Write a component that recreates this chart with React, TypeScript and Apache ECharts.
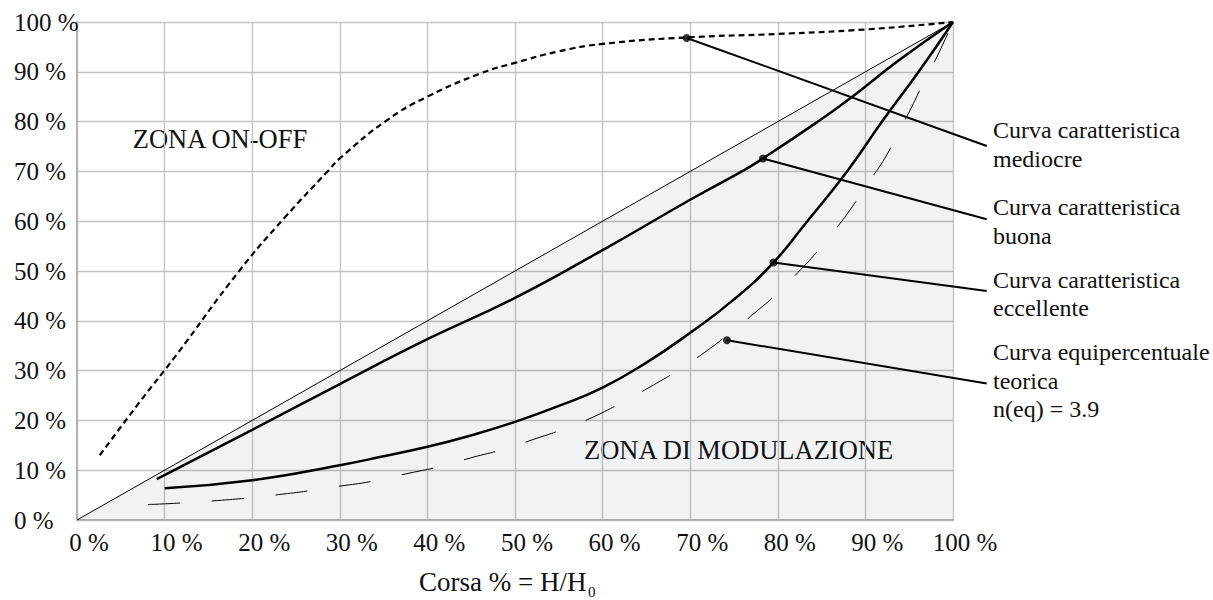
import React, { useEffect, useRef } from "react";
import * as echarts from "echarts";

// ---- data (percent of stroke vs percent of flow) ----
const diagonal: number[][] = [
  [0, 0],
  [100, 100],
];

const curvaMediocre: number[][] = [
  [2.6, 13], [7.2, 23.8], [11.2, 32.8], [18.6, 50.2], [23.8, 60.9], [28.6, 70],
  [30, 72.6], [35.4, 80.3], [40, 85], [46.1, 89.7], [50, 91.8], [55, 94.1],
  [60, 95.6], [69.6, 96.9], [80, 97.6], [90, 98.5], [100, 100],
];

const curvaBuona: number[][] = [
  [9.1, 8.2], [20, 18.1], [30, 27.3], [40, 36.3], [50, 44.6], [60, 54.2],
  [70, 64.3], [76.1, 70.2], [78.3, 72.6], [84.4, 79.8], [88.2, 84.6],
  [93.9, 92.4], [100, 100],
];

const curvaEccellente: number[][] = [
  [10, 6.4], [20, 8.0], [30, 11.0], [35, 12.8], [40, 14.7], [45, 17.0],
  [50, 19.7], [55, 22.9], [60, 26.6], [65, 31.6], [70, 37.6], [75, 44.3],
  [79.5, 51.7], [83, 59.2], [87.9, 70], [91.9, 80], [96.2, 90.3], [100, 100],
];

const curvaEquipercentuale: number[][] = [
  [8.1, 3.1], [16, 3.9], [24, 5.3], [30, 6.8], [33.8, 7.8], [37.9, 9.4],
  [41.6, 10.8], [45.2, 12.6], [48.7, 14.2], [52.3, 16.3], [55.8, 18.4],
  [59.2, 20.9], [62.5, 23.9], [65.8, 27.1], [69, 30.5], [72, 34.1],
  [74.7, 37.8], [77.3, 41.5], [79.8, 45.3], [82.3, 49.7], [84.5, 53.9],
  [86.6, 58.4], [88.5, 62.9], [90.4, 67.9], [92.2, 72.6], [93.7, 77.6],
  [95.1, 82.3], [96.6, 87.7], [98, 92.4], [100, 100],
];

const markerPoints: number[][] = [
  [69.6, 96.8],
  [78.3, 72.6],
  [79.5, 51.7],
  [74.2, 36.1],
];

const leaderEnds: number[][] = [
  [103.85, 75.1],
  [103.85, 60.4],
  [103.85, 46.0],
  [103.85, 27.4],
];

const labelBlocks: string[][] = [
  ["Curva caratteristica", "mediocre"],
  ["Curva caratteristica", "buona"],
  ["Curva caratteristica", "eccellente"],
  ["Curva equipercentuale", "teorica", "n(eq) = 3.9"],
];

const zoneLabels: string[] = ["ZONA ON-OFF", "ZONA DI MODULAZIONE"];
const axisTitle = "Corsa % = H/H";
const axisTitleSub = "0";

// ---- component ----
const FONT = '"Liberation Serif", "Times New Roman", Times, serif';

export default function App() {
  const ref = useRef<HTMLDivElement | null>(null);

  useEffect(() => {
    if (!ref.current) return;
    const chart = echarts.init(ref.current, undefined, { renderer: "svg" });

    const textGraphics: any[] = [];
    const blockBaselines = [138.3, 215, 287.7, 360];
    const lineStep = 28.5;
    labelBlocks.forEach((lines, bi) => {
      lines.forEach((t, li) => {
        textGraphics.push({
          type: "text",
          x: 993,
          y: blockBaselines[bi] + li * lineStep - 8,
          silent: true,
          style: {
            text: t,
            fontFamily: FONT,
            fontSize: 24,
            fill: "#111",
            align: "left",
            verticalAlign: "middle",
          },
        });
      });
    });
    const zonePos = [
      [132.7, 138.8],
      [584, 450.4],
    ];
    zoneLabels.forEach((t, i) => {
      textGraphics.push({
        type: "text",
        x: zonePos[i][0],
        y: zonePos[i][1],
        silent: true,
        style: {
          text: t,
          fontFamily: FONT,
          fontSize: 26.5,
          fill: "#111",
          align: "left",
          verticalAlign: "middle",
        },
      });
    });
    textGraphics.push({
      type: "text",
      x: 419,
      y: 582,
      silent: true,
      style: {
        text: axisTitle,
        fontFamily: FONT,
        fontSize: 27,
        fill: "#111",
        align: "left",
        verticalAlign: "middle",
      },
    });
    textGraphics.push({
      type: "text",
      x: 588,
      y: 592,
      silent: true,
      style: {
        text: axisTitleSub,
        fontFamily: FONT,
        fontSize: 15,
        fill: "#111",
        align: "left",
        verticalAlign: "middle",
      },
    });

    const axisCommon = {
      type: "value",
      min: 0,
      max: 100,
      interval: 10,
      axisLine: { show: true, onZero: false, lineStyle: { color: "#b2b2b2", width: 2 } },
      axisTick: { show: false },
      splitLine: { show: true, lineStyle: { color: "#c4c4c4", width: 1.3 } },
    };

    const curveLine = (data: number[][], width: number, type: any) => ({
      type: "line",
      data,
      symbol: "none",
      smooth: 0.5,
      silent: true,
      lineStyle: { color: "#000", width, type },
      z: 3,
    });

    chart.setOption({
      animation: false,
      backgroundColor: "#fff",
      grid: { left: 77, right: 260, top: 22, bottom: 80, containLabel: false },
      xAxis: {
        ...axisCommon,
        axisLabel: {
          formatter: "{value} %",
          fontFamily: FONT,
          fontSize: 25,
          color: "#111",
          margin: 10,
          padding: [0, 0, 0, 24],
        },
      },
      yAxis: {
        ...axisCommon,
        axisLabel: {
          formatter: "{value} %",
          fontFamily: FONT,
          fontSize: 25,
          color: "#111",
          align: "left",
          margin: 63,
        },
      },
      graphic: textGraphics,
      series: [
        {
          type: "line",
          data: diagonal,
          symbol: "none",
          silent: true,
          lineStyle: { color: "#000", width: 1 },
          areaStyle: { color: "rgba(0,10,30,0.078)", origin: "start" },
          z: 1,
        },
        curveLine(curvaMediocre, 2.2, [6, 4]),
        curveLine(curvaBuona, 2.5, "solid"),
        curveLine(curvaEccellente, 2.5, "solid"),
        curveLine(curvaEquipercentuale, 1, [32, 32]),
        {
          type: "scatter",
          data: markerPoints,
          symbol: "circle",
          symbolSize: 8,
          silent: true,
          itemStyle: { color: "#000" },
          z: 5,
        },
      ],
    });

    // leader lines from each marker to its label, positioned through the axis scales
    const leaderGraphics = markerPoints.map((p, i) => {
      const a = chart.convertToPixel({ gridIndex: 0 }, p) as number[];
      const b = chart.convertToPixel({ gridIndex: 0 }, leaderEnds[i]) as number[];
      return {
        type: "line",
        silent: true,
        z: 4,
        shape: { x1: a[0], y1: a[1], x2: b[0], y2: b[1] },
        style: { stroke: "#000", lineWidth: 2 },
      };
    });
    chart.setOption({ graphic: [...textGraphics, ...leaderGraphics] });

    return () => {
      chart.dispose();
    };
  }, []);

  return (
    <div
      ref={ref}
      style={{ position: "fixed", left: 0, top: 0, width: "1213px", height: "600px", background: "#fff" }}
    />
  );
}
